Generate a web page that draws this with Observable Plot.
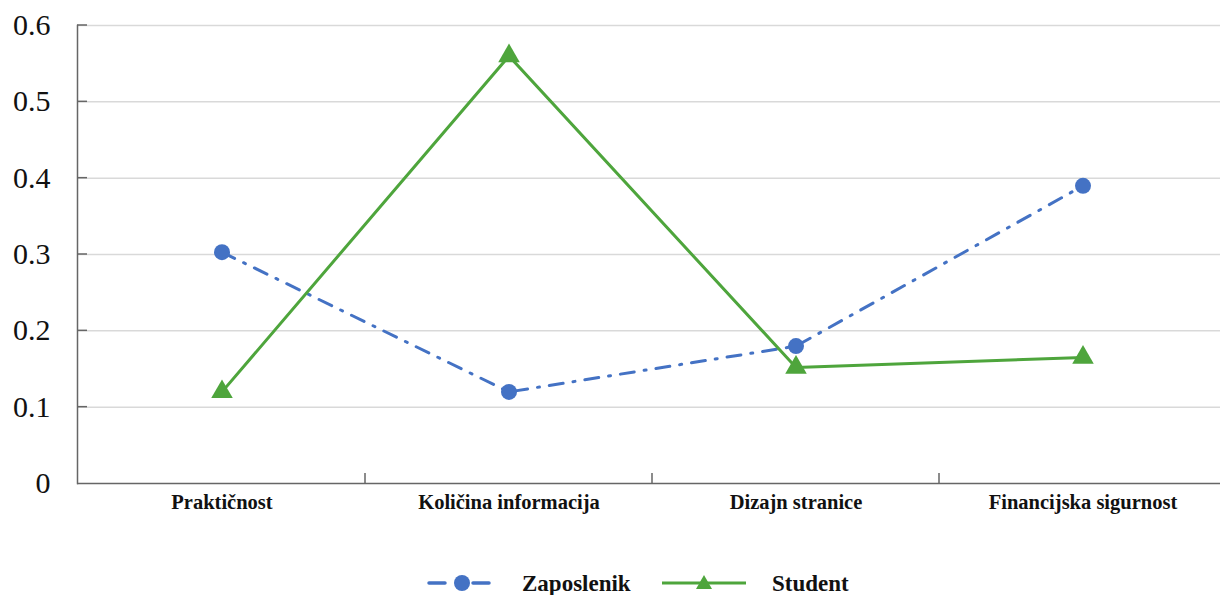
<!DOCTYPE html>
<html>
<head>
<meta charset="utf-8">
<script src="https://cdn.jsdelivr.net/npm/d3@7"></script>
<script src="https://cdn.jsdelivr.net/npm/@observablehq/plot@0.6"></script>
<style>
  html, body { margin: 0; padding: 0; background: #fff; }
  #legend { position: relative; height: 40px; width: 1220px; font-family: "Liberation Serif", "Times New Roman", serif; font-weight: bold; font-size: 23px; color: #111; }
  #legend .el { position: absolute; top: 28px; transform: translateY(-50%); line-height: 1; }
</style>
</head>
<body>
<div id="chart"></div>
<div id="legend"></div>
<script>
const categories = ["Praktičnost", "Količina informacija", "Dizajn stranice", "Financijska sigurnost"];
const zaposlenik = [0.303, 0.120, 0.180, 0.390];
const student = [0.120, 0.560, 0.152, 0.165];
const yTicks = [0, 0.1, 0.2, 0.3, 0.4, 0.5, 0.6];
const seriesNames = ["Zaposlenik", "Student"];
const blue = "#4472C4";
const green = "#4EA53C";

const zData = categories.map((c, i) => ({cat: c, v: zaposlenik[i]}));
const sData = categories.map((c, i) => ({cat: c, v: student[i]}));

const axisMarks = (index, scales, values, dims) => {
  const g = d3.create("svg:g");
  yTicks.slice(1).forEach(t => {
    g.append("line").attr("x1", dims.marginLeft).attr("x2", dims.marginLeft + 10)
      .attr("y1", scales.y(t)).attr("y2", scales.y(t))
      .attr("stroke", "#666").attr("stroke-width", 1.5);
  });
  categories.slice(1).forEach(c => {
    const x = scales.x(c);
    g.append("line").attr("x1", x).attr("x2", x)
      .attr("y1", scales.y(0)).attr("y2", scales.y(0) - 10)
      .attr("stroke", "#666").attr("stroke-width", 1.5);
  });
  return g.node();
};

const chart = Plot.plot({
  width: 1220,
  height: 555,
  marginLeft: 77,
  marginTop: 25,
  marginBottom: 72,
  marginRight: 0,
  x: {type: "band", domain: categories, range: [77, 1227], padding: 0, label: null},
  y: {domain: [0, 0.6], range: [483, 25], label: null},
  style: {fontFamily: "'Liberation Serif', 'Times New Roman', serif", background: "#fff"},
  marks: [
    Plot.ruleY(yTicks.slice(1), {stroke: "#d9d9d9", strokeWidth: 1.5}),
    Plot.axisY({ticks: yTicks, tickSize: 0, tickPadding: 27, fontSize: 30, fill: "#111", label: null,
      tickFormat: d => d === 0 ? "0" : d.toFixed(1)}),
    Plot.axisX({tickSize: 0, tickPadding: 11, fontSize: 20.5, fontWeight: "bold", fill: "#111", label: null}),
    Plot.frame({anchor: "left", stroke: "#666", strokeWidth: 1.5}),
    Plot.ruleY([0], {stroke: "#666", strokeWidth: 1.5}),
    axisMarks,
    Plot.line(zData, {x: "cat", y: "v", stroke: blue, strokeWidth: 3, strokeDasharray: "14 10 2 10", strokeLinecap: "round"}),
    Plot.line(sData, {x: "cat", y: "v", stroke: green, strokeWidth: 3}),
    Plot.dot(zData, {x: "cat", y: "v", r: 8, fill: blue, stroke: "none"}),
    Plot.dot(sData, {x: "cat", y: "v", r: 8, symbol: "triangle", fill: green, stroke: "none"})
  ]
});
document.getElementById("chart").appendChild(chart);

const legend = document.getElementById("legend");
legend.innerHTML = `
  <svg class="el" style="left:425px" width="68" height="20"><line x1="4" y1="10" x2="20" y2="10" stroke="${blue}" stroke-width="3.5" stroke-linecap="round"/><line x1="48" y1="10" x2="64" y2="10" stroke="${blue}" stroke-width="3.5" stroke-linecap="round"/><circle cx="37" cy="10" r="8" fill="${blue}"/></svg>
  <span class="el" style="left:522px">${seriesNames[0]}</span>
  <svg class="el" style="left:662px" width="84" height="20"><line x1="0" y1="10" x2="84" y2="10" stroke="${green}" stroke-width="3"/><path d="M42,2 L50,16 L34,16 Z" fill="${green}"/></svg>
  <span class="el" style="left:772px">${seriesNames[1]}</span>
`;
</script>
</body>
</html>
